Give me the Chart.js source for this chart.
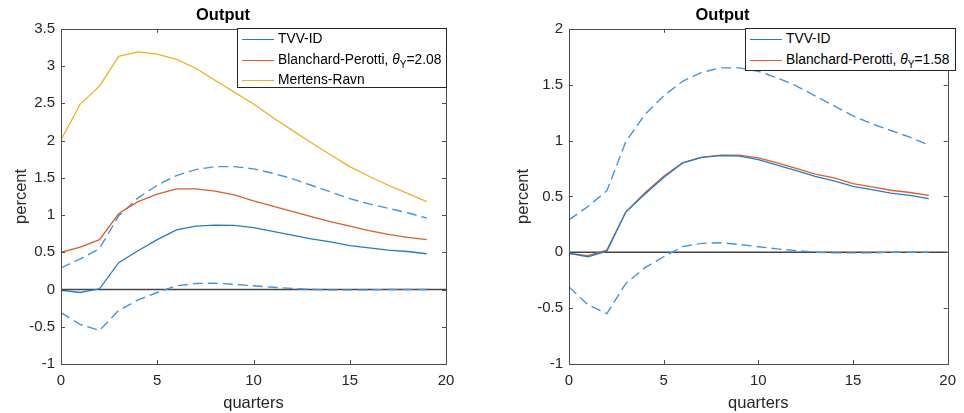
<html>
  <head>
    <script src="https://cdn.jsdelivr.net/npm/chart.js@4.4.1/dist/chart.umd.min.js"></script>
    <style>
      body { margin: 0; background: #fff; font-family: "Liberation Sans", Arial, Helvetica, sans-serif; }
      .panel { position: absolute; top: 0; }
      .legend { position: absolute; background: #fff; border: 1px solid #262626; box-sizing: border-box; font-size: 13.8px; color: #000; }
      .legend .row { position: absolute; left: 0; height: 20px; line-height: 20px; white-space: nowrap; }
      .legend .swatch { position: absolute; left: 4px; top: 10px; width: 32px; height: 0; border-top: 1.3px solid; }
      .legend .txt { position: absolute; left: 40px; top: 0; }
      .legend sub { font-size: 10px; vertical-align: -4px; line-height: 0; }
      #err { position: absolute; left: 0; bottom: 0; color: red; font-size: 11px; }
    </style>
  </head>
  <body>
    <div class="panel" style="left:0"><canvas id="leftChart" width="480" height="413"></canvas></div>
    <div class="panel" style="left:490px"><canvas id="rightChart" width="474" height="413"></canvas></div>
    <div class="legend" id="leftLegend" style="left:237px; top:28px; width:210px; height:60px"></div>
    <div class="legend" id="rightLegend" style="left:745px; top:28px; width:211px; height:43px"></div>
    <div id="err"></div>

    <script>
// horizon in quarters
const quarters = [0, 1, 2, 3, 4, 5, 6, 7, 8, 9, 10, 11, 12, 13, 14, 15, 16, 17, 18, 19];

// TVV-ID response and its bands (same in both panels)
const tvvId    = [-0.01, -0.04, 0.01, 0.36, 0.52, 0.67, 0.80, 0.85, 0.865, 0.86, 0.83, 0.78, 0.73, 0.68, 0.64, 0.59, 0.56, 0.53, 0.51, 0.48];
const tvvUpper = [0.29, 0.41, 0.55, 0.99, 1.23, 1.40, 1.53, 1.61, 1.65, 1.65, 1.62, 1.56, 1.49, 1.40, 1.31, 1.22, 1.15, 1.09, 1.03, 0.96];
const tvvLower = [-0.31, -0.47, -0.55, -0.28, -0.14, -0.04, 0.05, 0.08, 0.085, 0.07, 0.05, 0.03, 0.015, 0.0, -0.005, -0.005, -0.005, 0.0, 0.0, 0.0];

// left panel
const bpLeft      = [0.50, 0.57, 0.67, 1.02, 1.18, 1.28, 1.35, 1.35, 1.32, 1.27, 1.19, 1.12, 1.05, 0.98, 0.91, 0.85, 0.79, 0.74, 0.70, 0.67];
const mertensRavn = [2.01, 2.49, 2.73, 3.13, 3.19, 3.16, 3.09, 2.97, 2.81, 2.65, 2.49, 2.31, 2.14, 1.97, 1.81, 1.65, 1.52, 1.40, 1.29, 1.18];

// right panel
const bpRight = [-0.01, -0.03, 0.02, 0.36, 0.53, 0.68, 0.80, 0.85, 0.87, 0.87, 0.845, 0.80, 0.75, 0.70, 0.665, 0.615, 0.585, 0.555, 0.535, 0.51];

// zero reference line spans the whole x range
const zeroLineX = [0, 20];

const xTicks = [0, 5, 10, 15, 20];
const yTicksLeft = [-1, -0.5, 0, 0.5, 1, 1.5, 2, 2.5, 3, 3.5];
const yTicksRight = [-1, -0.5, 0, 0.5, 1, 1.5, 2];

const legendLeft = ['TVV-ID', 'Blanchard-Perotti, <i>θ</i><sub>Y</sub>=2.08', 'Mertens-Ravn'];
const legendRight = ['TVV-ID', 'Blanchard-Perotti, <i>θ</i><sub>Y</sub>=1.58'];

const BLUE = '#1f7ec9';
const BLUE_DASH = '#4496d6';
const RED = '#dd5e2a';
const YELLOW = '#edb120';
const FONT = '"Liberation Sans", Arial, Helvetica, sans-serif';

// matlab style box with inward ticks
const boxPlugin = {
  id: 'matlabBox',
  afterDraw(chart) {
    try {
      const ctx = chart.ctx;
      const a = chart.chartArea;
      const xs = chart.scales.x, ys = chart.scales.y;
      ctx.save();
      ctx.strokeStyle = '#4d4d4d';
      ctx.lineWidth = 1;
      ctx.setLineDash([]);
      ctx.beginPath();
      xTicks.forEach(v => {
        const px = Math.round(xs.getPixelForValue(v)) + 0.5;
        ctx.moveTo(px, a.bottom); ctx.lineTo(px, a.bottom - 4);
        ctx.moveTo(px, a.top); ctx.lineTo(px, a.top + 4);
      });
      ys.ticks.forEach(t => {
        const py = Math.round(ys.getPixelForValue(t.value)) + 0.5;
        ctx.moveTo(a.left, py); ctx.lineTo(a.left + 4, py);
        ctx.moveTo(a.right, py); ctx.lineTo(a.right - 4, py);
      });
      ctx.stroke();
      ctx.strokeRect(Math.round(a.left) + 0.5, Math.round(a.top) + 0.5, Math.round(a.right - a.left), Math.round(a.bottom - a.top));
      ctx.restore();
    } catch (e) {
      document.getElementById('err').textContent = e.message;
    }
  }
};

function line(data, color, dashed) {
  return {
    data: data,
    borderColor: color,
    borderWidth: dashed ? 1.4 : 1.3,
    borderDash: dashed ? [10, 5] : [],
    pointRadius: 0,
    fill: false,
    tension: 0
  };
}

function pairs(ys) {
  return ys.map((y, i) => ({x: quarters[i], y: y}));
}

function makeChart(id, datasets, yMin, yMax, yTicks, yWidth, yTitlePad, padRight) {
  const ctx = document.getElementById(id).getContext('2d');
  return new Chart(ctx, {
    type: 'line',
    data: {datasets: datasets},
    plugins: [boxPlugin],
    options: {
      responsive: false,
      animation: false,
      layout: {padding: {left: 0, right: padRight, top: 0, bottom: 0}},
      scales: {
        x: {
          type: 'linear', min: 0, max: 20,
          grid: {display: false, drawTicks: false}, border: {display: false},
          afterBuildTicks: s => { s.ticks = xTicks.map(v => ({value: v})); },
          afterFit: s => { s.height = 49; },
          ticks: {padding: 8, color: '#262626', font: {family: FONT, size: 15}, maxRotation: 0,
                  callback: v => String(v)},
          title: {display: true, text: 'quarters', color: '#262626', font: {family: FONT, size: 16.5}, padding: {top: 0, bottom: 0}}
        },
        y: {
          type: 'linear', min: yMin, max: yMax,
          grid: {display: false, drawTicks: false}, border: {display: false},
          afterBuildTicks: s => { s.ticks = yTicks.map(v => ({value: v})); },
          afterFit: s => { s.width = yWidth; },
          ticks: {padding: 6, color: '#262626', font: {family: FONT, size: 15},
                  callback: v => String(v)},
          title: {display: true, text: 'percent', color: '#262626', font: {family: FONT, size: 16.5}, padding: {top: yTitlePad, bottom: 0}}
        }
      },
      plugins: {
        legend: {display: false},
        tooltip: {enabled: false},
        title: {display: true, text: 'Output', color: '#000', font: {family: FONT, size: 16.5, weight: 'bold'}, padding: {top: 6, bottom: 3}}
      }
    }
  });
}

function zeroLine() {
  return Object.assign(line(zeroLineX.map(x => ({x: x, y: 0})), '#444', false), {borderWidth: 1.6});
}

makeChart('leftChart', [
  line(pairs(tvvId), BLUE, false),
  line(pairs(bpLeft), RED, false),
  line(pairs(mertensRavn), YELLOW, false),
  line(pairs(tvvUpper), BLUE_DASH, true),
  line(pairs(tvvLower), BLUE_DASH, true),
  zeroLine()
], -1, 3.5, yTicksLeft, 61, 12, 34);

makeChart('rightChart', [
  line(pairs(tvvId), BLUE, false),
  line(pairs(bpRight), RED, false),
  line(pairs(tvvUpper), BLUE_DASH, true),
  line(pairs(tvvLower), BLUE_DASH, true),
  zeroLine()
], -1, 2, yTicksRight, 79, 24, 9);

function buildLegend(id, labels, colors) {
  const box = document.getElementById(id);
  labels.forEach((lab, i) => {
    const row = document.createElement('div');
    row.className = 'row';
    row.style.top = (i * 20.5) + 'px';
    row.innerHTML = '<span class="swatch" style="border-color:' + colors[i] + '"></span><span class="txt">' + lab + '</span>';
    box.appendChild(row);
  });
}

buildLegend('leftLegend', legendLeft, [BLUE, RED, YELLOW]);
buildLegend('rightLegend', legendRight, [BLUE, RED]);
    </script>
  </body>
</html>
